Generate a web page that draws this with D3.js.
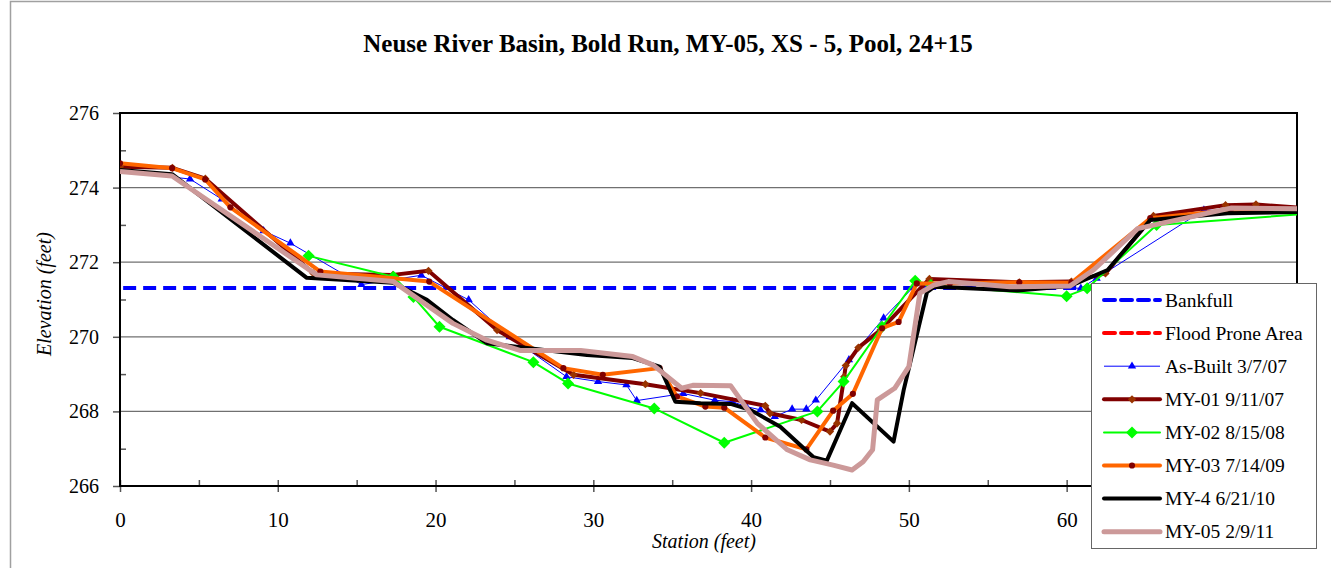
<!DOCTYPE html>
<html lang="en">
<head>
    <meta charset="UTF-8">
    <title>Neuse River Basin, Bold Run, MY-05, XS - 5, Pool, 24+15</title>
    <script src="https://cdnjs.cloudflare.com/ajax/libs/d3/7.8.5/d3.min.js"></script>
    <style>
        body {
            margin: 0;
            background: white;
            overflow: hidden;
        }
        svg {
            display: block;
        }
        text {
            font-family: "Liberation Serif", "Times New Roman", serif;
        }
        .grid line {
            stroke: #707070;
            stroke-width: 1.2px;
        }
        .series {
            fill: none;
            stroke-linejoin: round;
        }
    </style>
</head>
<body>
    <svg width="1331" height="568"></svg>

    <script>
        // [station, elevation] pairs
        const bankfull = [[0.2, 271.31], [62, 271.31]];
        const floodProne = [];   // above the plotted range, legend only

        const asBuilt = [[0, 274.43], [4.44, 274.23], [6.45, 273.69], [9.1, 272.84], [10.8, 272.51],
            [15.3, 271.4], [19.1, 271.65], [22.1, 270.99], [24.7, 270.0], [28.3, 268.93], [30.3, 268.8],
            [32.1, 268.71], [32.75, 268.29], [35.7, 268.48], [37.7, 268.3], [38.8, 268.26], [39.7, 268.13],
            [40.6, 268.04], [41.5, 267.86], [42.6, 268.06], [43.5, 268.06], [44.1, 268.3], [46.2, 269.38],
            [48.4, 270.5], [50.5, 271.43], [60.9, 271.3], [61.9, 271.57], [68.7, 273.4], [75, 273.3]];

        const my01 = [[0, 274.56], [3.32, 274.53], [5.41, 274.24], [12.26, 271.7], [17.3, 271.66],
            [19.55, 271.77], [23.9, 270.18], [28.75, 268.98], [33.3, 268.73], [36.8, 268.49], [40.9, 268.15],
            [41.2, 267.95], [43.2, 267.77], [45.0, 267.46], [45.45, 267.68], [45.9, 268.93], [46.0, 269.23],
            [46.8, 269.71], [48.2, 270.18], [51.3, 271.55], [57.0, 271.46], [60.3, 271.48], [62.46, 271.7],
            [65.5, 273.24], [70.07, 273.53], [72.0, 273.55], [75, 273.45]];

        const my02 = [[11.95, 272.17], [17.33, 271.61], [18.6, 271.07], [20.25, 270.27], [26.2, 269.32],
            [28.4, 268.75], [33.86, 268.08], [38.3, 267.16], [44.2, 268.0], [45.86, 268.8], [48.3, 270.27],
            [50.4, 271.5], [51.4, 271.39], [60.0, 271.09], [61.3, 271.3], [65.7, 273.0], [75, 273.29]];

        const my03 = [[0, 274.65], [3.3, 274.52], [5.4, 274.22], [7.0, 273.47], [12.7, 271.75],
            [19.6, 271.48], [28.1, 269.16], [30.6, 268.98], [34.2, 269.16], [35.3, 268.4], [37.1, 268.13],
            [38.3, 268.1], [40.9, 267.3], [43.5, 266.98], [45.2, 268.02], [46.45, 268.47], [48.3, 270.23],
            [49.35, 270.4], [50.5, 271.43], [52.6, 271.43], [57.0, 271.46], [60.3, 271.45], [65.3, 273.18],
            [70.4, 273.4], [75, 273.35]];

        const my4 = [[0, 274.47], [3.3, 274.36], [11.84, 271.58], [17.3, 271.45], [19.45, 270.99],
            [21.1, 270.45], [23.25, 269.83], [25.4, 269.72], [29.6, 269.51], [32.5, 269.43], [34.2, 269.2],
            [35.2, 268.26], [36.8, 268.22], [38.7, 268.2], [39.95, 268.04], [41.85, 267.59], [43.96, 266.77],
            [44.8, 266.68], [46.4, 268.22], [49.03, 267.19], [49.67, 268.57], [51.15, 271.2], [51.6, 271.34],
            [56.9, 271.24], [60.2, 271.36], [62.6, 271.79], [65.3, 273.13], [70.2, 273.31], [75, 273.35]];

        const my05 = [[0, 274.43], [3.3, 274.31], [12.47, 271.66], [17.33, 271.48], [21.1, 270.36],
            [23.25, 269.91], [25.4, 269.63], [29.2, 269.63], [32.5, 269.47], [33.8, 269.24], [34.5, 269.0],
            [35.6, 268.62], [36.3, 268.7], [38.7, 268.69], [40.4, 267.68], [42.3, 266.97], [43.75, 266.7],
            [45.2, 266.56], [46.4, 266.43], [47.1, 266.65], [47.7, 266.97], [48.0, 268.31], [49.1, 268.62],
            [50.0, 269.2], [50.7, 271.17], [51.6, 271.39], [52.5, 271.48], [56.4, 271.34], [60.2, 271.36],
            [61.7, 271.79], [64.5, 272.9], [70.4, 273.45], [75, 273.43]];

        // the 70 tick sits under the legend
        const xTicks = [0, 10, 20, 30, 40, 50, 60];
        const yTicks = [266, 268, 270, 272, 274, 276];

        const series = [
            { name: "Bankfull", data: bankfull, color: "#0000ff", width: 4, dash: "13,7", marker: null },
            { name: "Flood Prone Area", data: floodProne, color: "#ff0000", width: 4, dash: "13,7", marker: null },
            { name: "As-Built 3/7/07", data: asBuilt, color: "#0000ff", width: 1, marker: "triangle", mColor: "#0000ff", mSize: 30 },
            { name: "MY-01 9/11/07", data: my01, color: "#800000", width: 4, marker: "diamond", mColor: "#993300", mSize: 34 },
            { name: "MY-02 8/15/08", data: my02, color: "#00ff00", width: 2, marker: "diamond", mColor: "#00ff00", mSize: 72 },
            { name: "MY-03 7/14/09", data: my03, color: "#ff6600", width: 4, marker: "circle", mColor: "#800000", mSize: 30 },
            { name: "MY-4 6/21/10", data: my4, color: "#000000", width: 4, marker: null },
            { name: "MY-05 2/9/11", data: my05, color: "#cc9999", width: 5, marker: null }
        ];

        const svg = d3.select("svg");
        const plotLeft = 120, plotRight = 1297, plotTop = 113, plotBottom = 486;

        const x = d3.scaleLinear().domain([0, 74.6]).range([plotLeft, plotRight]);
        const y = d3.scaleLinear().domain([266, 276]).range([plotBottom, plotTop]);

        // outer chart border
        svg.append("rect")
            .attr("x", 10.5).attr("y", 1.5)
            .attr("width", 1400).attr("height", 700)
            .attr("fill", "white").attr("stroke", "#a0a0a0").attr("stroke-width", 1.5);

        svg.append("text")
            .attr("x", 668).attr("y", 52)
            .attr("text-anchor", "middle")
            .attr("font-size", 25).attr("font-weight", "bold")
            .text("Neuse River Basin, Bold Run, MY-05, XS - 5, Pool, 24+15");

        // gridlines
        svg.append("g").attr("class", "grid")
            .selectAll("line")
            .data(yTicks.filter(v => v > 266 && v < 276))
            .enter().append("line")
            .attr("x1", plotLeft).attr("x2", plotRight)
            .attr("y1", d => y(d)).attr("y2", d => y(d));

        // y axis: major ticks outside, minor inside
        const yAxis = svg.append("g").attr("transform", `translate(${plotLeft},0)`)
            .call(d3.axisLeft(y).tickValues(yTicks).tickSize(7).tickSizeOuter(0).tickPadding(14).tickFormat(d3.format("d")));
        yAxis.append("g").call(d3.axisRight(y).tickValues([267, 269, 271, 273, 275]).tickSize(6).tickFormat(""))
            .select(".domain").remove();

        // x axis: major ticks cross, minor inside
        const xAxis = svg.append("g").attr("transform", `translate(0,${plotBottom})`)
            .call(d3.axisBottom(x).tickValues(xTicks).tickSize(6).tickSizeOuter(0).tickPadding(20).tickFormat(d3.format("d")));
        xAxis.append("g").call(d3.axisTop(x).tickValues(xTicks).tickSize(6).tickFormat(""))
            .select(".domain").remove();
        xAxis.append("g").call(d3.axisTop(x).tickValues([5, 15, 25, 35, 45, 55, 65]).tickSize(6).tickFormat(""))
            .select(".domain").remove();

        svg.selectAll(".tick text").attr("font-size", 21).attr("fill", "#000")
            .style("font-family", "Liberation Serif");
        yAxis.selectAll(".tick text").attr("font-size", 20);
        svg.selectAll(".tick line").attr("stroke", "#555").attr("stroke-width", 1.5);
        svg.selectAll(".domain").attr("stroke", "none");

        // plot area border
        svg.append("rect")
            .attr("x", plotLeft).attr("y", plotTop)
            .attr("width", plotRight - plotLeft).attr("height", plotBottom - plotTop)
            .attr("fill", "none").attr("stroke", "#000").attr("stroke-width", 2);

        svg.append("text")
            .attr("transform", "translate(51,294) rotate(-90)")
            .attr("text-anchor", "middle")
            .attr("font-size", 20).attr("font-style", "italic")
            .text("Elevation (feet)");

        svg.append("text")
            .attr("x", 704).attr("y", 548)
            .attr("text-anchor", "middle")
            .attr("font-size", 20).attr("font-style", "italic")
            .text("Station (feet)");

        svg.append("clipPath").attr("id", "plot")
            .append("rect")
            .attr("x", plotLeft).attr("y", plotTop)
            .attr("width", plotRight - plotLeft).attr("height", plotBottom - plotTop);

        const line = d3.line().x(d => x(d[0])).y(d => y(d[1]));

        // Excel-style markers: diamonds are squares turned 45 degrees
        function markerPath(type, size) {
            if (type === "triangle") return d3.symbol().type(d3.symbolTriangle).size(size)();
            if (type === "circle") return d3.symbol().type(d3.symbolCircle).size(size)();
            const r = Math.sqrt(size) / Math.SQRT2;
            return `M0,${-r}L${r},0L0,${r}L${-r},0Z`;
        }

        const plot = svg.append("g").attr("clip-path", "url(#plot)");

        series.forEach(s => {
            if (s.data.length === 0) return;
            plot.append("path")
                .datum(s.data)
                .attr("class", "series")
                .attr("d", line)
                .attr("stroke", s.color)
                .attr("stroke-width", s.width)
                .attr("stroke-dasharray", s.dash || null);

            if (s.marker) {
                plot.append("g")
                    .selectAll("path")
                    .data(s.data)
                    .enter().append("path")
                    .attr("d", markerPath(s.marker, s.mSize))
                    .attr("transform", d => `translate(${x(d[0])},${y(d[1])})`)
                    .attr("fill", s.mColor);
            }
        });

        // legend
        const legend = svg.append("g").attr("transform", "translate(1091,283)");
        legend.append("rect")
            .attr("x", 0.5).attr("y", 0.5)
            .attr("width", 225).attr("height", 265)
            .attr("fill", "white").attr("stroke", "#666").attr("stroke-width", 1);

        const items = legend.selectAll(".item")
            .data(series)
            .enter().append("g")
            .attr("transform", (d, i) => `translate(0,${17 + i * 33.1})`);

        items.append("line")
            .attr("x1", 13).attr("x2", 69)
            .attr("stroke", d => d.color)
            .attr("stroke-width", d => Math.max(d.width, 1))
            .attr("stroke-dasharray", d => d.dash ? "11,6" : null)
            .attr("stroke-linecap", d => d.width > 1 ? "round" : "butt");

        items.filter(d => d.marker)
            .append("path")
            .attr("d", d => markerPath(d.marker, d.mSize))
            .attr("transform", "translate(41,0)")
            .attr("fill", d => d.mColor);

        items.append("text")
            .attr("x", 74).attr("y", 6.5)
            .attr("font-size", 19.5)
            .text(d => d.name);
    </script>
</body>
</html>
